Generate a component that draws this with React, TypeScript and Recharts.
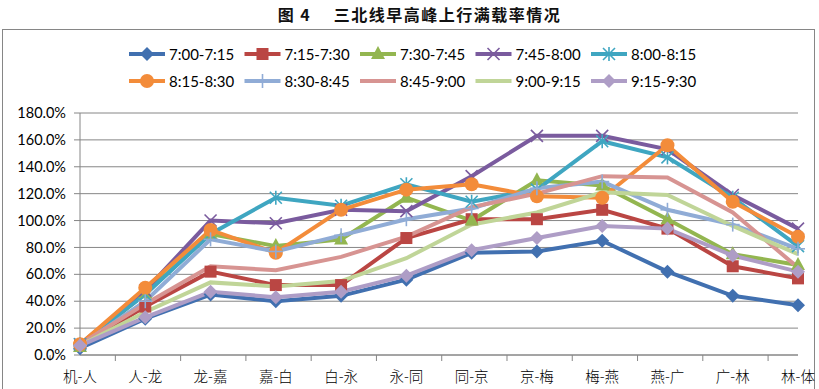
import { CartesianGrid, Line, LineChart, XAxis, YAxis } from 'recharts'

const CATEGORIES = ['机-人', '人-龙', '龙-嘉', '嘉-白', '白-永', '永-同', '同-京', '京-梅', '梅-燕', '燕-广', '广-林', '林-体']

// 满载率 (%)
const S_0700 = [5, 27, 45, 40, 44, 56, 76, 77, 85, 62, 44, 37]
const S_0715 = [7, 36, 62, 52, 52, 87, 101, 101, 108, 94, 66, 57]
const S_0730 = [6, 46, 90, 81, 86, 117, 100, 130, 126, 101, 75, 67]
const S_0745 = [8, 48, 100, 98, 108, 107, 133, 163, 163, 153, 119, 94]
const S_0800 = [8, 45, 90, 117, 111, 127, 114, 123, 159, 147, 117, 81]
const S_0815 = [8, 50, 93, 76, 108, 123, 127, 118, 117, 156, 114, 88]
const S_0830 = [7, 40, 86, 77, 89, 101, 109, 124, 129, 108, 97, 79]
const S_0845 = [8, 38, 66, 63, 73, 88, 110, 120, 133, 132, 106, 65]
const S_0900 = [7, 32, 54, 51, 55, 72, 97, 106, 121, 119, 96, 75]
const S_0915 = [7, 28, 47, 43, 47, 59, 78, 87, 96, 94, 74, 62]

const Y_TICKS = [0, 20, 40, 60, 80, 100, 120, 140, 160, 180]

type Marker = 'diamond' | 'square' | 'triangle' | 'x' | 'star' | 'circle' | 'plus' | 'none'

const SERIES: { key: string, name: string, values: number[], color: string, marker: Marker }[] = [
  { key: 's0700', name: '7:00-7:15', values: S_0700, color: '#4170B0', marker: 'diamond' },
  { key: 's0715', name: '7:15-7:30', values: S_0715, color: '#BA4643', marker: 'square' },
  { key: 's0730', name: '7:30-7:45', values: S_0730, color: '#93B650', marker: 'triangle' },
  { key: 's0745', name: '7:45-8:00', values: S_0745, color: '#7A5B9E', marker: 'x' },
  { key: 's0800', name: '8:00-8:15', values: S_0800, color: '#3FA6C1', marker: 'star' },
  { key: 's0815', name: '8:15-8:30', values: S_0815, color: '#F38C3A', marker: 'circle' },
  { key: 's0830', name: '8:30-8:45', values: S_0830, color: '#90ACD6', marker: 'plus' },
  { key: 's0845', name: '8:45-9:00', values: S_0845, color: '#D79492', marker: 'none' },
  { key: 's0900', name: '9:00-9:15', values: S_0900, color: '#C0D598', marker: 'none' },
  { key: 's0915', name: '9:15-9:30', values: S_0915, color: '#AE9DC6', marker: 'diamond' }
]

const data = CATEGORIES.map((name, i) => {
  const row: Record<string, string | number> = { name }
  SERIES.forEach(s => { row[s.key] = s.values[i] })
  return row
})

const W = 819
const H = 389
const MARGIN = { top: 113, right: 21, left: 0, bottom: 4 }
const Y_AXIS_W = 80
const BAND = (W - MARGIN.right - Y_AXIS_W) / CATEGORIES.length
const AXIS = '#868686'
const FONT = 'Lato, "Open Sans", sans-serif'

function MarkerShape ({ x, y, marker, color }: { x: number, y: number, marker: Marker, color: string }) {
  switch (marker) {
    case 'diamond':
      return <polygon points={`${x},${y - 7} ${x + 7},${y} ${x},${y + 7} ${x - 7},${y}`} fill={color} />
    case 'square':
      return <rect x={x - 6} y={y - 6} width={12} height={12} fill={color} />
    case 'triangle':
      return <polygon points={`${x},${y - 8} ${x + 7},${y + 5} ${x - 7},${y + 5}`} fill={color} />
    case 'circle':
      return <circle cx={x} cy={y} r={7} fill={color} />
    case 'x':
      return (
        <g stroke={color} strokeWidth={1.6}>
          <line x1={x - 6} y1={y - 6} x2={x + 6} y2={y + 6} />
          <line x1={x - 6} y1={y + 6} x2={x + 6} y2={y - 6} />
        </g>
      )
    case 'star':
      return (
        <g stroke={color} strokeWidth={1.6}>
          <line x1={x - 6} y1={y - 6} x2={x + 6} y2={y + 6} />
          <line x1={x - 6} y1={y + 6} x2={x + 6} y2={y - 6} />
          <line x1={x} y1={y - 7} x2={x} y2={y + 7} />
        </g>
      )
    case 'plus':
      return (
        <g stroke={color} strokeWidth={1.6}>
          <line x1={x} y1={y - 7} x2={x} y2={y + 7} />
          <line x1={x - 7} y1={y} x2={x + 7} y2={y} />
        </g>
      )
    default:
      return null
  }
}

function makeDot (marker: Marker, color: string) {
  return (props: any) => {
    const { cx, cy, index } = props
    if (cx == null || cy == null) return <g key={index} />
    return <g key={index}><MarkerShape x={cx} y={cy} marker={marker} color={color} /></g>
  }
}

function CategoryTick (props: any) {
  const { x, y, payload, index } = props
  const half = BAND / 2
  return (
    <g>
      <line x1={x - half} y1={y} x2={x - half} y2={y + 6} stroke={AXIS} />
      {index === CATEGORIES.length - 1 && (
        <line x1={x + half} y1={y} x2={x + half} y2={y + 6} stroke={AXIS} />
      )}
      <text
        x={x}
        y={y + 20}
        textAnchor='middle'
        dominantBaseline='central'
        fontSize={14.5}
        fontWeight={300}
        fill='#000'
        fontFamily='"Noto Sans CJK SC", sans-serif'
      >
        {payload.value}
      </text>
    </g>
  )
}

export default function App () {
  return (
    <div style={{ position: 'absolute', left: 0, top: 0, width: W, height: H, background: '#fff', overflow: 'hidden' }}>
      <div
        style={{
          position: 'absolute',
          left: 0,
          top: 3,
          width: W,
          textAlign: 'center',
          fontFamily: '"Noto Sans CJK SC", sans-serif',
          fontWeight: 700,
          fontSize: 16,
          letterSpacing: '1.5px',
          lineHeight: '22px',
          color: '#111',
          paddingLeft: 20,
          boxSizing: 'border-box'
        }}
      >
        图 4　 三北线早高峰上行满载率情况
      </div>
      <div
        style={{
          position: 'absolute',
          left: 2,
          top: 29,
          width: 813,
          height: 380,
          border: `1px solid ${AXIS}`,
          boxSizing: 'border-box'
        }}
      />
      <svg style={{ position: 'absolute', left: 0, top: 40 }} width={W} height={60}>
        {SERIES.map((s, i) => {
          const x0 = 129 + (i % 5) * 115.5
          const y0 = 14 + Math.floor(i / 5) * 27
          return (
            <g key={s.key}>
              <line x1={x0} y1={y0} x2={x0 + 36} y2={y0} stroke={s.color} strokeWidth={4} />
              <MarkerShape x={x0 + 18} y={y0} marker={s.marker} color={s.color} />
              <text x={x0 + 40} y={y0} dominantBaseline='central' fontSize={15} fontFamily={FONT} fill='#000'>
                {s.name}
              </text>
            </g>
          )
        })}
      </svg>
      <div style={{ position: 'absolute', left: 0, top: 0 }}>
        <LineChart width={W} height={H} data={data} margin={MARGIN}>
          <CartesianGrid vertical={false} stroke={AXIS} strokeWidth={1} />
          <XAxis
            dataKey='name'
            height={30}
            axisLine={{ stroke: AXIS }}
            tickLine={false}
            tickSize={0}
            tickMargin={0}
            interval={0}
            tick={<CategoryTick />}
          />
          <YAxis
            width={Y_AXIS_W}
            domain={[0, 180]}
            ticks={Y_TICKS}
            interval={0}
            axisLine={{ stroke: AXIS }}
            tickLine={{ stroke: AXIS }}
            tickSize={6}
            tickMargin={8}
            tick={{ fontSize: 14.5, fill: '#000', fontFamily: FONT }}
            tickFormatter={(v: number) => `${v.toFixed(1)}%`}
          />
          {SERIES.map(s => (
            <Line
              key={s.key}
              type='linear'
              dataKey={s.key}
              name={s.name}
              stroke={s.color}
              strokeWidth={4}
              dot={makeDot(s.marker, s.color)}
              activeDot={false}
              isAnimationActive={false}
            />
          ))}
        </LineChart>
      </div>
    </div>
  )
}
